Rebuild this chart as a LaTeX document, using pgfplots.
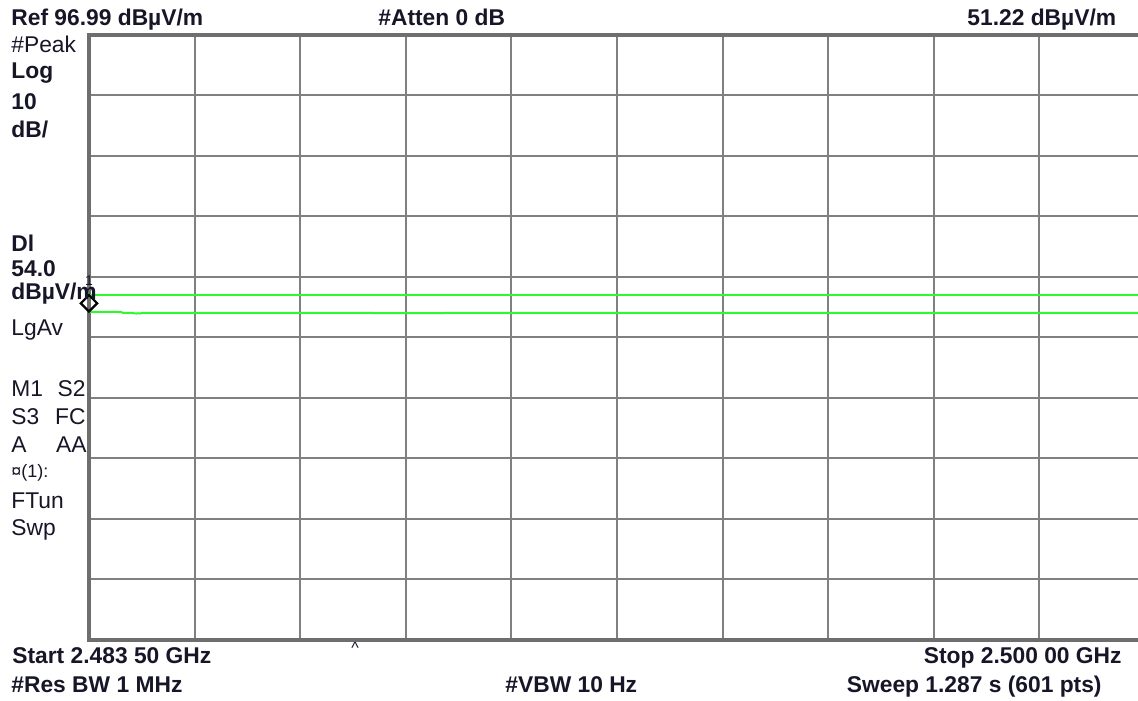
\documentclass[border=0pt]{standalone}
\usepackage{pgfplots}
\pgfplotsset{compat=1.18}
\usepackage{fontspec}
\setmainfont{Liberation Sans}
\definecolor{gridgray}{RGB}{128,128,128}
\definecolor{framegray}{RGB}{110,110,110}
\definecolor{trace}{RGB}{45,250,45}
\definecolor{txt}{RGB}{22,22,40}
\begin{document}
\begin{tikzpicture}[x=0.5pt,y=0.5pt,
  lbl/.style={anchor=base west, inner sep=0pt, text=txt, font=\fontsize{11.4}{12}\selectfont},
  blbl/.style={lbl, font=\fontsize{11.4}{12}\selectfont\bfseries}]
\begin{axis}[at={(44.5pt,30pt)}, anchor=south west,
  width=528pt, height=302.5pt, scale only axis,
  xmin=2483.5, xmax=2500, ymin=-3.01, ymax=96.99,
  xtick={2485.15,2486.8,2488.45,2490.1,2491.75,2493.4,2495.05,2496.7,2498.35},
  ytick={6.99,16.99,26.99,36.99,46.99,56.99,66.99,76.99,86.99},
  xticklabels={}, yticklabels={}, major tick length=0,
  grid=major, major grid style={gridgray, line width=1pt},
  axis line style={framegray, line width=1.6pt},
  clip=false]
% display line
\addplot[trace, line width=1pt] coordinates {(2483.5,54.0)(2500,54.0)};
% trace
\addplot[trace, line width=1pt] coordinates {
(2483.50,51.22)(2484.00,51.22)(2484.03,51.05)(2484.18,51.05)(2484.20,51.00)
(2484.24,50.95)(2484.27,51.00)(2484.30,50.95)(2484.33,51.05)(2485.5,51.04)(2487.0,51.05)
(2488.5,51.03)(2490.0,51.05)(2491.5,51.04)(2493.0,51.05)(2494.5,51.04)
(2496.0,51.05)(2497.5,51.04)(2499.0,51.05)(2500.0,51.05)};
% marker 1
\addplot[only marks, mark=square, mark size=2.9pt, black, line width=1.1pt,
  mark options={yshift=4.3pt, rotate=45},
  nodes near coords={1},
  every node near coord/.style={font=\fontsize{7}{7}\selectfont, yshift=8.5pt, inner sep=0pt, text=txt}]
  coordinates {(2483.5,51.22)};
\end{axis}
% top line
\node[blbl] at (11,674) {Ref 96.99 dBµV/m};
\node[blbl] at (378,674) {\#Atten 0 dB};
\node[blbl] at (967,674) {51.22 dBµV/m};
% left column
\node[lbl] at (11,647) {\#Peak};
\node[blbl] at (11,621) {Log};
\node[blbl] at (11,590) {10};
\node[blbl] at (11,562) {dB/};
\node[blbl] at (11,448) {Dl};
\node[blbl] at (11,423) {54.0};
\node[blbl] at (11,400) {dBµV/m};
\node[lbl] at (11,364) {LgAv};
\node[lbl] at (11,303) {M1};
\node[lbl, anchor=base east] at (86,303) {S2};
\node[lbl] at (11,275) {S3};
\node[lbl, anchor=base east] at (86,275) {FC};
\node[lbl] at (11,247) {A};
\node[lbl, anchor=base east] at (87,247) {AA};
\node[lbl, font=\fontsize{9}{10}\selectfont] at (11,222) {¤(1):};
\node[lbl] at (11,191) {FTun};
\node[lbl] at (11,164) {Swp};
% bottom
\node[txt, font=\fontsize{8}{8}\selectfont, inner sep=0pt] at (355,52) {\^{}};
\node[blbl] at (12,36) {Start 2.483 50 GHz};
\node[blbl, anchor=base east] at (1122,36) {Stop 2.500 00 GHz};
\node[blbl] at (11,8) {\#Res BW 1 MHz};
\node[blbl] at (505,8) {\#VBW 10 Hz};
\node[blbl, anchor=base east] at (1102,8) {Sweep 1.287 s (601 pts)};
\pgfresetboundingbox
\path[use as bounding box] (0,0) rectangle (1138,700);
\end{tikzpicture}
\end{document}
